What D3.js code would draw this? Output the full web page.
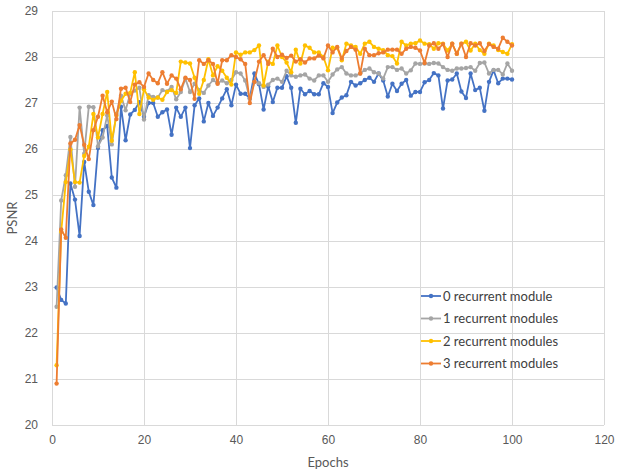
<!DOCTYPE html>
<html>
<head>
<meta charset="utf-8">
<script src="https://cdn.jsdelivr.net/npm/d3@7"></script>
<style>
  body { margin: 0; background: #fff; }
  svg { font-family: Lato, "Open Sans", sans-serif; }
  .grid line { stroke: #d9d9d9; stroke-width: 1; }
  .grid path { display: none; }
  .tick text { fill: #595959; font-size: 12px; }
</style>
</head>
<body>
<div id="chart"></div>
<script>
// tick labels
var xTicks = [0, 20, 40, 60, 80, 100, 120];
var yTicks = [20, 21, 22, 23, 24, 25, 26, 27, 28, 29];

// series names
var seriesNames = ["0 recurrent module", "1 recurrent modules", "2 recurrent modules", "3 recurrent modules"];

// PSNR per epoch (1..100)
var psnr0 = [22.99, 22.72, 22.64, 25.25, 24.9, 24.11, 25.72, 25.07, 24.78, 26.02,
  26.41, 26.5, 25.38, 25.16, 26.92, 26.19, 26.75, 26.85, 27.02, 26.7,
  27.0, 27.0, 26.7, 26.8, 26.86, 26.31, 26.9, 26.7, 26.9, 26.02,
  26.95, 27.1, 26.6, 27.0, 26.72, 26.9, 27.1, 27.3, 26.95, 27.4,
  27.2, 27.2, 27.1, 27.64, 27.41, 26.86, 27.36, 27.02, 27.33, 27.33,
  27.58, 27.33, 26.57, 27.31, 27.19, 27.26, 27.19, 27.19, 27.43, 27.35,
  26.78, 27.01, 27.12, 27.17, 27.46, 27.38, 27.43, 27.5, 27.55, 27.46,
  27.64, 27.49, 27.14, 27.42, 27.26, 27.42, 27.5, 27.16, 27.24, 27.24,
  27.45, 27.5, 27.65, 27.6, 26.88, 27.49, 27.51, 27.64, 27.25, 27.11,
  27.64, 27.28, 27.33, 26.83, 27.46, 27.71, 27.43, 27.53, 27.53, 27.51];

var psnr1 = [22.57, 24.88, 25.43, 26.26, 25.18, 26.9, 25.9, 26.92, 26.91, 26.06,
  26.25, 26.73, 26.1, 26.76, 27.16, 26.84, 27.2, 27.27, 27.33, 26.64,
  27.17, 27.13, 27.12, 27.28, 27.25, 27.35, 27.08, 27.24, 27.53, 27.24,
  27.42, 27.28, 27.22, 27.38, 27.5, 27.43, 27.49, 27.43, 27.5, 27.67,
  27.64, 27.49, 27.09, 27.46, 27.43, 27.35, 27.4, 27.5, 27.53, 27.46,
  27.7, 27.6, 27.57, 27.6, 27.62, 27.53, 27.49, 27.6, 27.6, 27.46,
  27.62, 27.73, 27.78, 27.64, 27.6, 27.6, 27.64, 27.72, 27.75, 27.67,
  27.64, 27.53, 27.78, 27.78, 27.72, 27.75, 27.64, 27.71, 27.86, 27.85,
  27.86, 27.85, 27.87, 27.86, 27.78, 27.72, 27.7, 27.75, 27.75, 27.76,
  27.78, 27.7, 27.87, 27.88, 27.64, 27.72, 27.72, 27.62, 27.86, 27.7];

var psnr2 = [21.3, 24.2, 25.28, 25.99, 25.28, 25.27, 25.85, 26.05, 26.76, 26.25,
  26.76, 27.24, 26.18, 26.73, 27.05, 27.2, 27.22, 27.67, 26.76, 27.3,
  27.12, 27.07, 27.12, 27.07, 27.24, 27.28, 27.22, 27.9, 27.88, 27.86,
  27.55, 27.2, 27.5, 27.95, 27.6, 27.8, 27.7, 27.55, 27.4, 28.1,
  28.05, 28.1, 28.1, 28.15, 28.25, 27.38, 27.9, 27.85, 28.25, 28.0,
  27.88, 27.67, 28.16, 27.86, 28.25, 28.2, 28.1, 28.1, 28.0, 27.71,
  28.2, 28.2, 27.93, 28.29, 28.25, 28.22, 28.07, 28.29, 28.33, 28.22,
  28.18, 28.15, 28.04, 28.02, 27.86, 28.33, 28.25, 28.29, 28.3, 28.36,
  28.29, 28.28, 28.18, 28.3, 28.29, 28.14, 28.29, 28.07, 28.29, 28.33,
  28.14, 28.29, 28.15, 28.07, 28.29, 28.25, 28.15, 28.11, 28.07, 28.28];

var psnr3 = [20.9, 24.25, 24.07, 26.12, 26.2, 26.52, 26.09, 25.78, 26.41, 26.7,
  27.16, 26.8, 27.03, 26.65, 27.31, 27.33, 27.02, 27.4, 27.45, 27.35,
  27.64, 27.5, 27.43, 27.67, 27.42, 27.6, 27.53, 27.3, 27.55, 27.5,
  27.09, 27.93, 27.85, 27.93, 27.85, 27.42, 27.93, 27.93, 28.04, 28.0,
  27.95, 27.85, 27.0, 27.46, 27.9, 28.04, 27.85, 28.18, 28.0, 28.05,
  27.98, 28.03, 27.9, 27.95, 27.88, 27.97, 27.97, 28.03, 27.97, 28.25,
  28.1, 28.22, 27.97, 28.13, 28.22, 28.16, 27.64, 28.18, 28.04, 28.04,
  28.08, 28.1, 28.16, 28.16, 28.16, 28.07, 28.18, 28.22, 28.2, 28.14,
  27.87, 28.25, 28.3, 28.18, 28.28, 28.0, 28.29, 28.07, 28.29, 28.0,
  28.3, 28.25, 28.3, 28.13, 28.28, 28.22, 28.18, 28.42, 28.33, 28.25];

var colors = ["#4472C4", "#A5A5A5", "#FFC000", "#ED7D31"];
var allSeries = [psnr0, psnr1, psnr2, psnr3];

var W = 617, H = 471;
var margin = { top: 11, right: 13, bottom: 46, left: 52 };
var width = W - margin.left - margin.right,
    height = H - margin.top - margin.bottom;

var svg = d3.select("#chart").append("svg")
    .attr("width", W)
    .attr("height", H);

var g = svg.append("g")
    .attr("transform", "translate(" + margin.left + "," + margin.top + ")");

var x = d3.scaleLinear().domain([0, 120]).range([0, width]);
var y = d3.scaleLinear().domain([20, 29]).range([height, 0]);

// GRID
g.append("g")
    .attr("class", "grid")
    .attr("transform", "translate(0," + height + ")")
    .call(d3.axisBottom(x).tickValues(xTicks).tickSize(-height).tickFormat(""));
g.append("g")
    .attr("class", "grid")
    .call(d3.axisLeft(y).tickValues(yTicks).tickSize(-width).tickFormat(""));

// AXES (labels only)
var xAxis = g.append("g")
    .attr("transform", "translate(0," + height + ")")
    .call(d3.axisBottom(x).tickValues(xTicks).tickSize(0).tickPadding(10));
xAxis.select(".domain").remove();

var yAxis = g.append("g")
    .call(d3.axisLeft(y).tickValues(yTicks).tickSize(0).tickPadding(14));
yAxis.select(".domain").remove();

// AXIS TITLES
svg.append("text")
    .attr("x", margin.left + width / 2)
    .attr("y", 467)
    .attr("text-anchor", "middle")
    .attr("fill", "#595959")
    .attr("font-size", "13px")
    .text("Epochs");

svg.append("text")
    .attr("transform", "translate(17," + (margin.top + height / 2) + ") rotate(-90)")
    .attr("text-anchor", "middle")
    .attr("fill", "#595959")
    .attr("font-size", "13px")
    .text("PSNR");

// LINES
var line = d3.line()
    .x(function (d, i) { return x(i + 1); })
    .y(function (d) { return y(d); });

allSeries.forEach(function (s, k) {
    g.append("path")
        .datum(s)
        .attr("fill", "none")
        .attr("stroke", colors[k])
        .attr("stroke-width", 1.8)
        .attr("stroke-linejoin", "round")
        .attr("d", line);
    g.append("g").selectAll("circle")
        .data(s)
        .join("circle")
        .attr("cx", function (d, i) { return x(i + 1); })
        .attr("cy", function (d) { return y(d); })
        .attr("r", 2.2)
        .attr("fill", colors[k]);
});

// LEGEND
var legend = svg.append("g").attr("transform", "translate(421,296)");
seriesNames.forEach(function (name, k) {
    var row = legend.append("g").attr("transform", "translate(0," + (k * 22.5) + ")");
    row.append("line")
        .attr("x1", 0).attr("x2", 20)
        .attr("y1", 0).attr("y2", 0)
        .attr("stroke", colors[k])
        .attr("stroke-width", 1.8);
    row.append("circle")
        .attr("cx", 10).attr("cy", 0).attr("r", 2.2)
        .attr("fill", colors[k]);
    row.append("text")
        .attr("x", 22)
        .attr("y", 4.5)
        .attr("fill", "#404040")
        .attr("font-size", "13px")
        .text(name);
});
</script>
</body>
</html>
